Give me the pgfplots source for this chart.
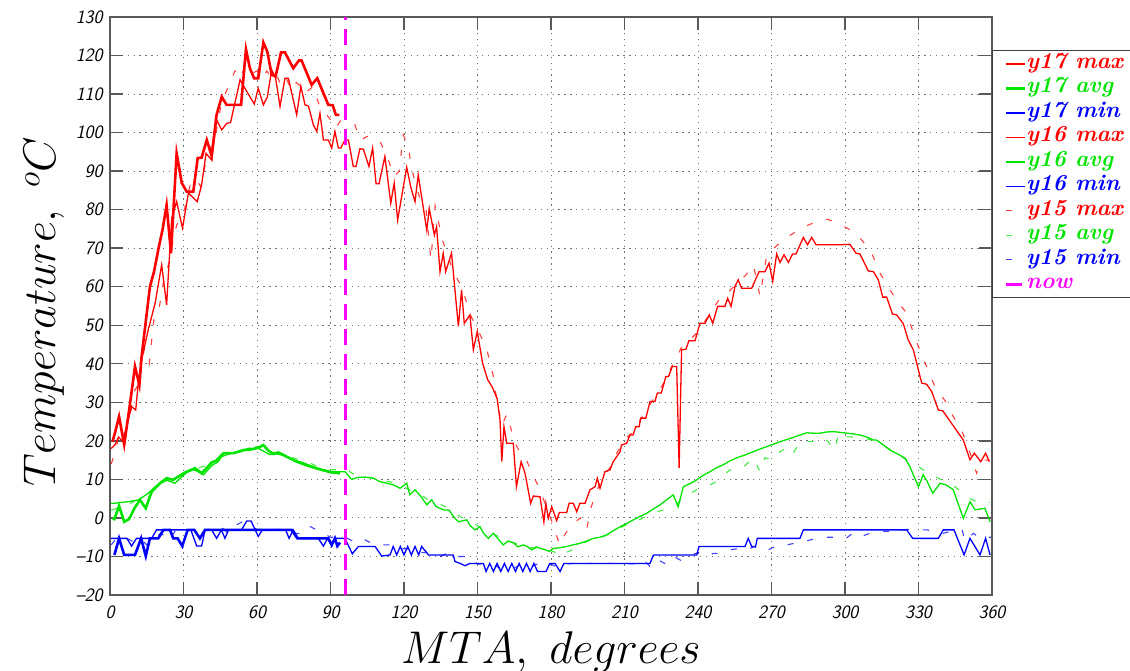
\RequirePackage{fix-cm}
\documentclass[border=0pt]{standalone}
\usepackage{fontspec}
\usepackage{pgfplots}
\pgfplotsset{compat=1.18}
\definecolor{cR}{RGB}{255,0,0}
\definecolor{cG}{RGB}{0,228,0}
\definecolor{cB}{RGB}{0,0,255}
\definecolor{cM}{RGB}{255,0,255}
\newcommand\tfz{\fontsize{19}{22}\selectfont\sffamily\slshape}
\newcommand\lgd[2]{\makebox[125bp][l]{\fontsize{23}{25}\selectfont\bfseries\itshape\textcolor{#1}{#2}}}
\begin{document}
\begin{tikzpicture}
\begin{axis}[
  scale only axis, width=882bp, height=578bp,
  xmin=0, xmax=360, ymin=-20, ymax=130,
  xtick={0,30,...,360}, ytick={-20,-10,...,130},
  xticklabels={{\tfz 0},{\tfz 30},{\tfz 60},{\tfz 90},{\tfz 120},{\tfz 150},{\tfz 180},{\tfz 210},{\tfz 240},{\tfz 270},{\tfz 300},{\tfz 330},{\tfz 360}},
  yticklabels={{\tfz --20},{\tfz --10},{\tfz 0},{\tfz 10},{\tfz 20},{\tfz 30},{\tfz 40},{\tfz 50},{\tfz 60},{\tfz 70},{\tfz 80},{\tfz 90},{\tfz 100},{\tfz 110},{\tfz 120},{\tfz 130}},
  tick align=inside, major tick length=13bp,
  grid=major,
  grid style={black!55, line width=0.9bp, dash pattern=on 1.3bp off 4.6bp},
  axis line style={black!65, line width=1.4bp},
  every tick/.style={black!65, line width=1.4bp},
  xticklabel style={yshift=-7bp},
  yticklabel style={xshift=-4bp},
  xlabel={$MTA,\ degrees$},
  ylabel={$Temperature,\ ^{o}C$},
  label style={font=\fontsize{46}{50}\selectfont},
  x label style={at={(axis description cs:0.5,-0.099)}, anchor=center},
  y label style={at={(axis description cs:-0.074,0.49)}, anchor=center},
  legend image code/.code={\draw[#1] (0bp,0bp) -- (19bp,0bp);},
  legend style={at={(1,0.943)}, anchor=north west, draw=black!75, line width=1bp,
    fill=white,
    inner xsep=12bp, inner ysep=4bp, row sep=5.5bp, column sep=0bp,
    nodes={inner sep=0bp, text height=14bp, text depth=5bp},
    cells={anchor=west}},
]
% y17 max
\addplot[cR, line width=2.6bp] coordinates {
(1,19.8) (2,22) (3.7,26.3) (5.8,19) (8.2,29.8) (10.2,39.3) (12,34.5) (12.9,41.9) (16.3,60) (18,64) (19.7,69.6) (21.5,75) (23.1,81.2) (24.9,68.7) (27.2,94.6) (29.3,86.9) (31.3,84.7) (34,84.7) (35.8,93.4) (37.4,93.5) (39.5,98.1) (41.5,93.9) (43.5,104.6) (45.6,109.3) (47.6,107.2) (53.5,107.2) (55.5,121.6) (57.1,116.7) (58.8,114.1) (60.5,114.1) (62.6,123.4) (64.2,121) (66,115) (67.6,114.6) (69.8,120.8) (71.4,120.8) (74.8,116.7) (77.1,118.7) (78.2,118.7) (82.3,112.4) (84.6,114.1) (89.1,107.2) (90.9,107.1) (92.2,104.6) (93.6,104.6)
};
\addlegendentry{\lgd{cR}{y17\hspace{9bp}max}}
% y17 avg
\addplot[cG, line width=2.6bp] coordinates {
(1,0) (1.8,-0.3) (3.7,3.1) (5.8,-1) (7.8,-0.3) (10,2.5) (12.2,4.7) (14.6,2.5) (17,6.8) (20.4,9) (23.1,10.3) (25.8,9.9) (28.5,11) (31.3,12) (34.7,12.9) (37.4,11.6) (39.5,13) (41.5,14.4) (43.5,14.9) (46.3,16.8) (50.3,16.8) (54.4,17.6) (57.8,17.8) (60.5,18.2) (62.6,18.9) (64.6,17.5) (66.7,16.6) (68.7,17) (72.1,15.9) (76.2,14.6) (81,13.5) (85.7,12.6) (90.5,11.8) (93.9,11.6)
};
\addlegendentry{\lgd{cG}{y17\hspace{9bp}avg}}
% y17 min
\addplot[cB, line width=2.6bp] coordinates {
(1.8,-9.6) (3.7,-5.3) (5.8,-9.6) (10.2,-9.6) (12.7,-5.3) (14.6,-9.9) (16.3,-5.3) (19.7,-5.3) (21.8,-3.1) (24.5,-3.1) (25.8,-5.3) (27.6,-5.3) (29.5,-7.3) (31.7,-3.1) (34.4,-3.1) (36.7,-5.3) (38.8,-3.1) (74.1,-3.1) (76.5,-5.3) (89.1,-5.3) (90.5,-7) (91.8,-5.3) (92.8,-7.3) (93.9,-6.4)
};
\addlegendentry{\lgd{cB}{y17\hspace{9bp}min}}
% y16 max
\addplot[cR, line width=1.3bp] coordinates {
(0.5,18) (2,19) (3.5,21) (5,20) (6.5,23) (8.8,28.9) (10.5,28) (11.6,35.4) (12.9,41) (15.6,48.8) (18.4,55.7) (21.1,65.7) (23.1,55.3) (25.2,77.8) (27.2,82.1) (29.6,75.2) (32,84.3) (35.6,82.1) (37.4,86.4) (39.2,94.6) (41.5,92.9) (43.5,103.3) (45.6,100.7) (47.6,102.4) (49.2,102.6) (53.1,113.7) (55.8,110.7) (58.9,107.4) (60.5,111.5) (62.6,107.2) (64.2,109.2) (66,116.3) (67.6,114.1) (69.4,106.8) (71.4,114.1) (72.8,114.1) (76.2,104.6) (77.9,112) (79.6,107.2) (81,106.9) (83,102) (84.4,100.3) (85.7,105) (87.1,98.1) (89.1,98.1) (90.5,96) (91.8,100.3) (93.2,96) (94.2,96) (95.9,98.1) (97.3,98.1) (99.3,91.2) (100.4,91.2) (102,95.8) (103.4,95.7) (105.7,91.2) (107.2,96) (108.6,86.7) (109.8,86.7) (112.2,93.8) (114.6,81.7) (116,86.9) (117.4,77.3) (121.1,91) (122.9,85.5) (124.5,82.1) (125.8,89) (129.3,74.7) (130.3,80.3) (132.4,73.4) (133.3,75.6) (134.7,63.9) (136,68.7) (137,63.9) (139.4,68.7) (142.2,49.7) (143.5,59.2) (144.6,50.5) (146.9,52.7) (148.3,43.6) (149.9,48.4) (152.1,40.1) (154.2,35.8) (156,34) (158,31) (159.2,25.4) (159.9,14.6) (160.8,23.7) (161.5,21.1) (161.9,19.4) (164.6,19.4) (165.9,8.1) (167.8,14.6) (169.4,11.6) (171.7,3.8) (172.8,5.7) (175.5,5.5) (177.1,-1) (177.9,3.8) (178.9,-0.1) (180.3,2.9) (182.3,-0.7) (183.4,1.4) (186.4,1.4) (187.4,3.8) (189.1,3.8) (190.5,1.6) (191.8,3.8) (193.9,3.8) (195.9,7.3) (198,8.1) (198.9,10.3) (200,7.7) (202,12) (204.1,12.5) (205.4,14.6) (208.2,17.2) (208.8,18.9) (210.9,19.4) (212.2,21.5) (213.5,21.5) (214.6,23.7) (216,23.7) (216.6,25.9) (218.7,25.9) (220.4,30.2) (222.4,30.2) (223.4,32.4) (225,32.4) (226.9,36.7) (228,36.7) (229.5,39.3) (231.3,39.3) (232.3,13) (233.3,43.6) (235.1,43.8) (236.3,46) (238.8,46) (240.8,50.5) (242.9,50.5) (244.6,52.7) (246,50.5) (248,54.9) (251,54.9) (252.1,57) (253.5,54.9) (255.1,60.1) (256.4,61.8) (257.8,59.6) (261.9,59.6) (264.9,63.9) (267.3,63.9) (269,66.1) (270.5,61.4) (272.1,68.5) (273.5,66.3) (275.1,68.3) (276.9,66.3) (278.6,68.5) (280,68.5) (283,72.8) (284.7,70.9) (286.4,72.8) (288.2,70.9) (298,70.9) (302,71) (304.5,68.7) (306.1,68.5) (309.5,64.1) (311.6,63.9) (313.6,61.8) (315.4,57.3) (317,57.3) (319.4,52.9) (321.1,52.7) (323.8,50.4) (325.8,46.2) (327.9,43.6) (331.3,35) (333.3,34.7) (335.4,32.8) (338.1,28) (339.9,27.8) (348.3,20.2) (351,15.1) (352.8,16.8) (355.4,14.6) (357.4,16.8) (358.9,14.6)
};
\addlegendentry{\lgd{cR}{y16\hspace{9bp}max}}
% y16 avg
\addplot[cG, line width=1.3bp] coordinates {
(0.5,3.8) (1.8,3.8) (4,4) (7.5,4.2) (10,4.5) (11.8,4.7) (13.5,5.5) (15.6,6.4) (18.4,8.1) (20.5,9) (22.4,9.9) (24.5,9.5) (26.5,9) (29,10.5) (31.3,11.8) (34,12.5) (36,12) (38.1,11.2) (40,12.5) (42,13.8) (44,14.5) (45.6,15.9) (48,16.5) (50,16.8) (52,17) (54,17.3) (56.5,18.1) (58.5,18) (60,18.2) (61.9,17.6) (63.5,17) (65.3,16.4) (67,16.8) (69,16.5) (72,16) (75,15) (78,14.5) (81,13.8) (84,13) (87,12.5) (90,12) (93.2,12) (95.9,12) (98.6,10) (101,10.5) (104.1,10.6) (107.5,10.3) (110.2,9.4) (113,9) (115.6,8.6) (118.4,7.7) (121.1,9) (122.4,6) (124.5,7.3) (127,5.5) (129.3,3.4) (131.3,4.7) (133,3) (136,2.1) (138.5,2) (140,0.5) (142.2,-1) (145.6,-0.5) (147,-2) (149,-3.1) (151,-2.3) (152.5,-4) (154.4,-5.3) (156.5,-4) (158.5,-5.5) (160.5,-7) (162.5,-6) (164.6,-6.4) (166.5,-7.5) (168.7,-7) (170.5,-7.5) (172.1,-8.3) (174,-7.5) (175.5,-7.9) (177.5,-8.2) (179.3,-8.7) (180.9,-7.9) (183,-7.8) (186.4,-7.4) (189,-7) (191.8,-6.6) (194.5,-6) (197.3,-5.3) (200,-5) (202.7,-4.4) (205.5,-3.3) (208.2,-2.3) (211,-1.4) (213.6,-0.5) (216,0.3) (219,1.2) (222,2.4) (224.5,3.4) (227,4.6) (229.9,6) (231.9,2.9) (234,8.1) (237,9) (239.5,9.9) (242,11) (244.9,12) (247.5,13) (250.3,13.8) (253,14.8) (255.8,15.6) (259,16.3) (262.6,17.2) (265,17.8) (268,18.5) (271,19.2) (273.5,19.8) (276,20.3) (278.9,20.9) (281.5,21.5) (284.4,22.1) (287,22) (289.8,22) (292.5,22.3) (295.2,22.4) (298,22.2) (300.7,22) (303.5,21.8) (306.1,21.5) (309,21) (311.6,20.2) (312.9,20.2) (315.5,19) (318.4,17.6) (321.5,16.6) (324.5,15.5) (326.5,13.3) (328,11) (330,8.1) (331.9,11.2) (333.5,9.5) (335.8,6.4) (338.8,9) (341.5,8.5) (344.2,7.3) (346,4) (348.3,-0.1) (351,4.2) (353.1,2.1) (355,2.3) (357.1,2.5) (359.2,-1)
};
\addlegendentry{\lgd{cG}{y16\hspace{9bp}avg}}
% y16 min
\addplot[cB, line width=1.3bp] coordinates {
(0.5,-5.3) (6.9,-5.3) (8.8,-7.3) (10.8,-5.3) (17,-5.3) (19,-3.1) (24,-3.1) (30.6,-3.1) (33,-3.1) (35.4,-7.3) (37.4,-7.3) (38.8,-3.1) (41.5,-3.1) (43.5,-5.3) (45.5,-3.1) (46.9,-5.3) (48.4,-3.1) (53.7,-3.1) (55.8,-0.8) (57.6,-0.8) (60.5,-4.8) (62.2,-3.1) (71.7,-3.1) (73.1,-5.3) (74.8,-3.1) (76.9,-5.3) (85,-5.3) (87.1,-7.3) (88.8,-5.3) (90.5,-7.3) (91.8,-5.3) (95.9,-5.3) (98.9,-9.3) (101.4,-7.4) (108.2,-7.4) (110.9,-9.9) (114.3,-9.6) (115.6,-7.4) (117,-9.6) (118.5,-7.4) (120,-9.6) (121.5,-7.4) (123,-9.6) (124.5,-7.4) (126,-9.6) (127.2,-7.4) (130,-9.6) (134.7,-9.6) (140.1,-9.6) (140.8,-11.3) (142.9,-11.8) (144.9,-12.4) (146.9,-11.8) (152.4,-11.8) (153.5,-13.9) (155,-11.8) (156.5,-13.9) (158,-11.8) (159.5,-13.9) (161,-11.8) (162.5,-13.9) (164,-11.8) (165.5,-13.9) (167,-11.8) (168.5,-13.9) (170,-11.8) (171.5,-13.9) (173,-11.8) (174.5,-13.9) (176,-13.9) (178,-13.9) (179.5,-11.8) (181.6,-11.8) (183.7,-13.9) (185.3,-11.8) (220.4,-11.8) (221.8,-9.6) (239.5,-9.6) (240.4,-7.4) (259.2,-7.4) (260.5,-5.3) (261.9,-7.4) (263.5,-7.4) (264.2,-5.3) (281.6,-5.3) (283,-3.1) (325.2,-3.1) (327.6,-5.3) (338.1,-5.3) (340.1,-3.1) (344.5,-3.1) (348.6,-9.6) (351,-5.3) (355.1,-9.6) (357.4,-5.3) (359.2,-9.6)
};
\addlegendentry{\lgd{cB}{y16\hspace{9bp}min}}
% y15 max
\addplot[cR, line width=1.1bp, opacity=0.75, dash pattern=on 6bp off 14bp] coordinates {
(0.5,14) (2,17) (4,22) (6,22) (8,26) (10,33) (12,35) (14,44) (16,40) (18,52) (19.7,53) (22,62) (24,66) (25.5,71) (27.2,76) (30,79) (32.7,86.4) (35,88) (37,86) (39,92) (41,96) (43,99) (45,106) (47,110) (49,113) (51,116) (53,114) (55,117) (57,115) (60,116) (62,114) (64,116) (66,114) (68,115) (70,112) (72,114) (74,111) (76,113) (78,112) (79.6,110) (81,111) (83,112) (84.4,109) (86,106) (88,105) (89.8,103.5) (92,101) (94,103) (96,103) (100,102) (102,98) (105,99) (108,98.6) (110,98) (113,94) (116,88.6) (118,90) (119.7,99.4) (121.8,96.4) (123,91) (125,86) (127,82) (129,80) (131,67) (132.7,81) (135.7,72) (138,68) (140,64) (143.5,60) (145.5,56) (147.6,52) (150,49) (153.7,44) (156.5,36.7) (158,30) (160,24) (162,27) (165,20) (168,16) (170,15) (172,12) (175,8) (178,3) (181,-2) (183.5,-7) (185,-5) (187,-3) (190,-1) (192,0) (194.6,-3) (196,2) (198,6) (200,9) (202,11) (205,14) (207,17) (209,19) (211,21) (213,22) (215,24) (217,26) (219,28) (221,30) (223,32) (225,34) (227,36) (229,39) (231,41) (233,44) (236.7,46.2) (240.1,48.4) (244.9,53.1) (249,57) (253,59) (256,61) (259.5,63) (262.6,65.7) (265.3,57.5) (268,68) (271,70) (275.5,72.6) (278,73.5) (282.3,75.2) (285,76) (288,76.8) (291,77.3) (293,77.5) (296.6,76.5) (300,75.5) (303.4,74.3) (307,72) (310.9,68.7) (314.3,63.5) (318.4,59.2) (321,56.5) (325.2,53.1) (329,46) (332.7,40.2) (336.7,34.1) (341.5,29.8) (344,26.5) (347.6,22.8) (351,17) (353.7,11.6) (356.5,15) (359,15)
};
\addlegendentry{\lgd{cR}{y15\hspace{9bp}max}}
% y15 avg
\addplot[cG, line width=1.1bp, opacity=0.75, dash pattern=on 6bp off 14bp] coordinates {
(0.5,2) (3,2.5) (6,3) (9,4) (12,5) (15,5) (18,7) (21,9) (24,10) (27,10.5) (30,11.5) (33,12.5) (36,13) (39,13.5) (42,14.5) (45,16) (48,16.5) (51,17) (54,17.5) (57,18) (60,18.5) (63,18) (66,17) (69,16.5) (72,16.5) (75,15.5) (78,15) (81,14.5) (84,13.5) (87,13) (90,12.5) (93,12.5) (96,13) (99,11.5) (102,11) (105,10.5) (108,10.5) (111,9.5) (114,9.5) (117,8.5) (120,8) (123,7) (126,6.5) (129,5) (132,4.5) (135,3.5) (138,2.5) (141,1) (144,0) (147,-1) (150,-2) (153,-3) (156,-4) (159,-5) (162,-6) (165,-6.5) (168,-7) (171,-7.5) (174,-8) (177,-8.5) (180,-8.5) (182,-9) (184,-10) (186,-9) (188,-8.5) (190,-7.5) (192,-7) (195,-6) (198,-5.5) (201,-5) (204,-4) (207,-3) (210,-2) (213,-1.5) (216,-0.5) (219,0.5) (223.1,1.6) (228.6,2.5) (231,3.5) (234.7,5.5) (239.5,7.3) (243,8) (246.3,9) (249.7,10.7) (253.1,12.5) (258.5,13.2) (262.6,15.6) (265.3,12) (267.3,15.6) (270.7,15.1) (273.5,17.2) (276.9,18.5) (278.9,16.8) (281.6,19.8) (286.4,19.8) (289.1,20.7) (292.5,20.2) (295.9,17.6) (297.3,22) (300,21.1) (303,21) (306,21) (309,20.5) (312,20) (315,19) (318,18) (321,17) (324,15.5) (327,14.5) (330,13.3) (333,12) (336,11) (339,10) (342,9) (345,8) (348,6.5) (351,5) (354,4.2) (357,4.5) (359,4)
};
\addlegendentry{\lgd{cG}{y15\hspace{9bp}avg}}
% y15 min
\addplot[cB, line width=1.1bp, opacity=0.75, dash pattern=on 6bp off 14bp] coordinates {
(0.5,-7) (3,-5) (6,-5) (9,-6) (12,-5) (15,-7) (18,-5) (21,-4) (24,-6) (27,-3) (30,-4) (33,-3) (36,-4) (39,-3) (42,-3) (45,-2) (48,-4) (51,-2) (54,-1) (57,-2) (60,-3) (63,-3) (66,-3) (69,-3) (72,-3) (75,-4) (78,-4) (81,-2) (84,-3) (87,-4) (90,-5) (93,-5) (96,-5) (99,-6) (102,-5) (105,-6) (108,-7) (111,-7) (114,-7) (117,-8) (120,-8) (123,-8) (126,-9) (129,-9) (132,-9) (135,-10) (138,-9) (141,-10) (144,-10) (147,-10) (150,-12) (153,-12) (156,-12) (159,-13) (162,-13) (165,-13) (168,-12) (171,-13) (174,-12) (177,-13) (180,-12) (183,-13) (186,-12) (189,-11.8) (200,-11.8) (210,-11.8) (215,-12) (218,-11) (221,-13) (224,-11) (227,-12) (230,-10) (233,-11) (236,-10) (240,-9) (243,-10) (246.3,-9.2) (249.7,-9.2) (253,-8.3) (257,-7.9) (259.5,-8.3) (263,-7.5) (267.3,-8.7) (272.8,-7) (276.2,-7) (280,-6.5) (284,-6) (288.4,-5.3) (292,-5) (296.5,-5) (300.5,-5.3) (303,-4) (306,-5) (310,-4) (315,-3.5) (320,-3.5) (325,-3) (333.5,-3.1) (340,-4) (343,-3.5) (347.8,-3.1) (349,-6) (352.4,-4) (355.1,-5.3) (358,-5) (359.5,-5)
};
\addlegendentry{\lgd{cB}{y15\hspace{9bp}min}}
% now
\addplot[cM, line width=2.6bp, dash pattern=on 16bp off 9bp] coordinates {(96,-20) (96,130)};
\addlegendentry{\lgd{cM}{now}}
\end{axis}
\pgfresetboundingbox
\path[use as bounding box] ([shift={(-110bp,-76bp)}]current axis.south west) rectangle ([shift={(138bp,17bp)}]current axis.north east);
\end{tikzpicture}
\end{document}
